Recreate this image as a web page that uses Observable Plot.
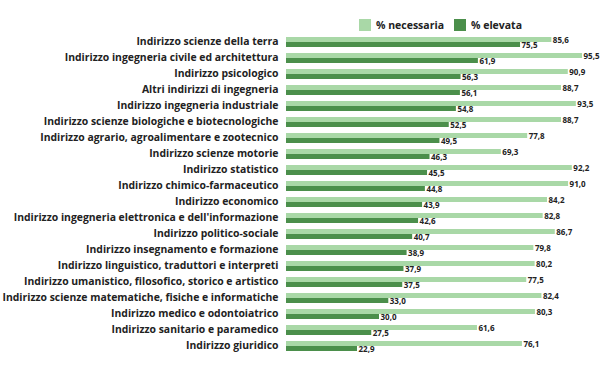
<!DOCTYPE html>
<html>
<head>
<meta charset="utf-8">
<script src="https://cdn.jsdelivr.net/npm/d3@7"></script>
<script src="https://cdn.jsdelivr.net/npm/@observablehq/plot@0.6"></script>
<style>
  html, body { margin: 0; padding: 0; background: #fff; }
  #wrap { position: relative; width: 600px; height: 365px; font-family: "Open Sans", sans-serif; }
  #legend { position: relative; height: 33px; width: 600px; }
  .sw { position: absolute; top: 19px; width: 12px; height: 12px; }
  .lt { position: absolute; top: 16px; font-size: 10.5px; font-weight: 700; color: #222; line-height: 18px; }
</style>
</head>
<body>
<div id="wrap">
  <div id="legend">
    <div class="sw" style="left:359px;background:#a9d8a7"></div>
    <div class="lt" style="left:376px">% necessaria</div>
    <div class="sw" style="left:454px;background:#4b8f4b"></div>
    <div class="lt" style="left:471px">% elevata</div>
  </div>
  <div id="chart"></div>
</div>
<script>
const categories = [
  "Indirizzo scienze della terra",
  "Indirizzo ingegneria civile ed architettura",
  "Indirizzo psicologico",
  "Altri indirizzi di ingegneria",
  "Indirizzo ingegneria industriale",
  "Indirizzo scienze biologiche e biotecnologiche",
  "Indirizzo agrario, agroalimentare e zootecnico",
  "Indirizzo scienze motorie",
  "Indirizzo statistico",
  "Indirizzo chimico-farmaceutico",
  "Indirizzo economico",
  "Indirizzo ingegneria elettronica e dell'informazione",
  "Indirizzo politico-sociale",
  "Indirizzo insegnamento e formazione",
  "Indirizzo linguistico, traduttori e interpreti",
  "Indirizzo umanistico, filosofico, storico e artistico",
  "Indirizzo scienze matematiche, fisiche e informatiche",
  "Indirizzo medico e odontoiatrico",
  "Indirizzo sanitario e paramedico",
  "Indirizzo giuridico"
];
const necessaria = [85.6, 95.5, 90.9, 88.7, 93.5, 88.7, 77.8, 69.3, 92.2, 91.0, 84.2, 82.8, 86.7, 79.8, 80.2, 77.5, 82.4, 80.3, 61.6, 76.1];
const elevata = [75.5, 61.9, 56.3, 56.1, 54.8, 52.5, 49.5, 46.3, 45.5, 44.8, 43.9, 42.6, 40.7, 38.9, 37.9, 37.5, 33.0, 30.0, 27.5, 22.9];
const seriesNames = ["% necessaria", "% elevata"];
const seriesColors = ["#a9d8a7", "#4b8f4b"];

const rows = [];
categories.forEach((c, i) => {
  rows.push({category: c, series: seriesNames[0], value: necessaria[i]});
  rows.push({category: c, series: seriesNames[1], value: elevata[i]});
});
const fmt = v => v.toFixed(1).replace(".", ",");

const chart = Plot.plot({
  width: 600,
  height: 332,
  marginLeft: 286,
  marginRight: 4,
  marginTop: 1,
  marginBottom: 11,
  style: {fontFamily: "Open Sans", fontSize: "10.4px", fontWeight: "700", color: "#222", background: "#fff"},
  x: {domain: [0, 100], axis: null},
  y: {domain: seriesNames, axis: null, paddingInner: 0.1, paddingOuter: 0},
  fy: {domain: categories, padding: 0.3, axis: "left", tickSize: 0, tickPadding: 8, label: null},
  color: {domain: seriesNames, range: seriesColors},
  marks: [
    Plot.barX(rows, {x: "value", y: "series", fy: "category", fill: "series"}),
    Plot.text(rows, {x: "value", y: "series", fy: "category", text: d => fmt(d.value), textAnchor: "start", dx: 1, fontSize: 8, fontWeight: 700, fill: "#222"})
  ]
});
document.getElementById("chart").appendChild(chart);
</script>
</body>
</html>
